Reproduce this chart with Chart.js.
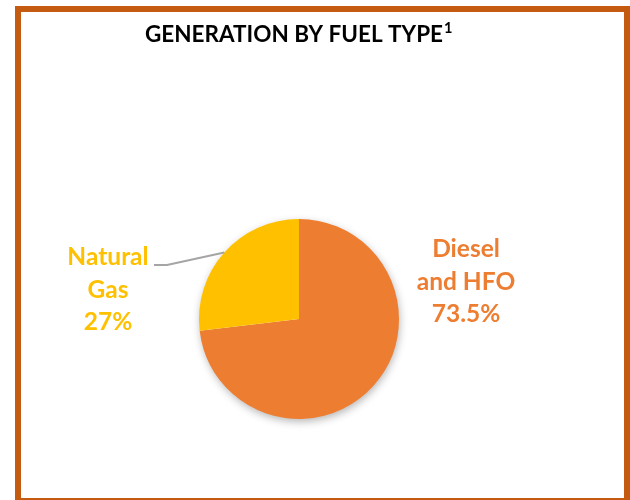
<!DOCTYPE html>
<html>
<head>
<meta charset="utf-8">
<script src="https://cdn.jsdelivr.net/npm/chart.js@4/dist/chart.umd.min.js"></script>
<style>
  html, body { margin: 0; padding: 0; background: #ffffff; width: 630px; height: 500px; overflow: hidden; }
  #frame { position: absolute; left: 15px; top: 6px; width: 615px; height: 498px; box-sizing: border-box; border: 6px solid #C55A11; }
  #c { position: absolute; left: 0; top: 0; }
</style>
</head>
<body>
<div id="frame"></div>
<canvas id="c" width="630" height="500"></canvas>
<script>
// ---- data ----
const categories = ['Diesel and HFO', 'Natural Gas'];
const shares = [73.5, 27];
const labelLines = [['Diesel', 'and HFO'], ['Natural', 'Gas']];
const shareLabels = ['73.5%', '27%'];
const titleText = 'GENERATION BY FUEL TYPE';
const titleNote = '1';

// ---- styles ----
const sliceColors = ['#ED7D31', '#FFC000'];
const FONT = 'Lato, "Open Sans", "Liberation Sans", sans-serif';

const shadowPlugin = {
  id: 'pieShadow',
  beforeDatasetsDraw(chart) {
    const arc = chart.getDatasetMeta(0).data[0];
    if (!arc) return;
    const ctx = chart.ctx;
    ctx.save();
    ctx.shadowColor = 'rgba(0,0,0,0.30)';
    ctx.shadowBlur = 9;
    ctx.shadowOffsetX = 1;
    ctx.shadowOffsetY = 3;
    ctx.fillStyle = '#ffffff';
    ctx.beginPath();
    ctx.arc(arc.x, arc.y, arc.outerRadius - 0.5, 0, Math.PI * 2);
    ctx.fill();
    ctx.restore();
  }
};

const textPlugin = {
  id: 'textLabels',
  afterDraw(chart, args, opts) {
    const ctx = chart.ctx;
    ctx.save();
    // title
    ctx.fillStyle = '#000000';
    ctx.textBaseline = 'alphabetic';
    ctx.textAlign = 'left';
    ctx.font = 'bold 100px ' + FONT;
    const w100 = ctx.measureText(titleText).width;
    const tSize = 100 * opts.titleWidth / w100;
    ctx.font = 'bold ' + tSize.toFixed(2) + 'px ' + FONT;
    ctx.fillText(titleText, opts.titleX, opts.titleY);
    ctx.font = 'bold ' + (tSize * 0.65).toFixed(2) + 'px ' + FONT;
    ctx.fillText(titleNote, opts.titleX + opts.titleWidth + 1, opts.titleY - tSize * 0.4);

    // slice labels
    const meta = chart.getDatasetMeta(0);
    ctx.textAlign = 'center';
    ctx.font = 'bold ' + opts.labelSize + 'px ' + FONT;
    opts.anchors.forEach((a, i) => {
      ctx.fillStyle = sliceColors[i];
      const lines = labelLines[i].concat([shareLabels[i]]);
      lines.forEach((ln, j) => {
        ctx.fillText(ln, a.x, a.y + j * opts.lineGap);
      });
    });

    // leader line for natural gas slice
    const arc = meta.data[1];
    const mid = (arc.startAngle + arc.endAngle) / 2;
    const ex = arc.x + Math.cos(mid) * arc.outerRadius;
    const ey = arc.y + Math.sin(mid) * arc.outerRadius;
    ctx.strokeStyle = '#A5A5A5';
    ctx.lineWidth = 2;
    ctx.beginPath();
    ctx.moveTo(opts.leader.x0, opts.leader.y);
    ctx.lineTo(opts.leader.x1, opts.leader.y);
    ctx.lineTo(ex, ey);
    ctx.stroke();
    ctx.restore();
  }
};

new Chart(document.getElementById('c'), {
  type: 'pie',
  data: {
    labels: categories,
    datasets: [{
      data: shares,
      backgroundColor: sliceColors,
      borderWidth: 0,
      hoverOffset: 0,
      offset: 0
    }]
  },
  options: {
    responsive: false,
    animation: false,
    events: [],
    layout: { padding: { left: 199, right: 231, top: 219, bottom: 81 } },
    plugins: {
      legend: { display: false },
      title: { display: false },
      tooltip: { enabled: false },
      textLabels: {
        titleX: 145, titleY: 42, titleWidth: 298,
        labelSize: 24.5, lineGap: 32.5,
        anchors: [ { x: 466, y: 257 }, { x: 108, y: 265 } ],
        leader: { x0: 154, x1: 167, y: 265 }
      }
    }
  },
  plugins: [shadowPlugin, textPlugin]
});
</script>
</body>
</html>
